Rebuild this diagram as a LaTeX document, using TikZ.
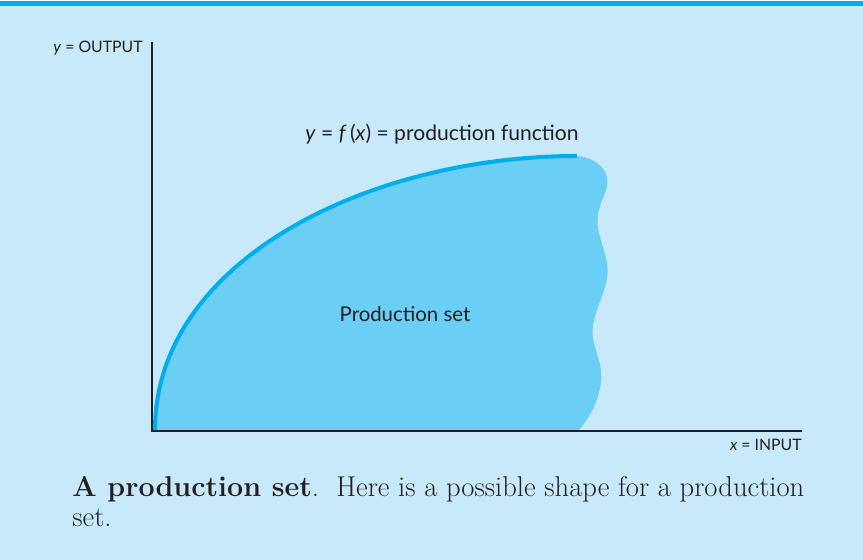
\documentclass[tikz,border=0pt]{standalone}
\usepackage{fontspec}
\usepackage{xcolor}
\usepackage{tikz}
\usetikzlibrary{positioning}
\newfontfamily\labelfont{Lato}
\definecolor{panelbg}{HTML}{C7E9F9}
\definecolor{topbar}{HTML}{00AEEF}
\definecolor{setfill}{HTML}{6BCEF5}
\definecolor{inkdark}{HTML}{231F20}

\begin{document}
\begin{tikzpicture}[
  x=0.02cm, y=-0.02cm,
  axislbl/.style={font=\labelfont\fontsize{9}{11}\selectfont, text=inkdark, inner sep=0pt},
  curvelbl/.style={font=\labelfont\fontsize{12}{14}\selectfont, text=inkdark, inner sep=0pt},
  axisline/.style={draw=inkdark, line width=1.6pt},
  frontier/.style={draw=topbar, line width=2.3pt, line cap=butt}
]
  \useasboundingbox (0,0) rectangle (863,560);
  \fill[panelbg] (0,2) rectangle (863,560);
  \fill[topbar] (0,1.5) rectangle (863,6.5);

  % production set with wavy right edge
  \coordinate (O) at (152,431);
  \coordinate (Y) at (152,42);
  \coordinate (X) at (802,431);
  \coordinate (S) at (155,430);
  \coordinate (E) at (577,156);
  \fill[setfill] (S) .. controls (155,260) and (370,156) .. (E)
    .. controls (598,158) and (612,172) .. (606,190)
    .. controls (600,205) and (596,215) .. (598,228)
    .. controls (601,245) and (610,262) .. (607,278)
    .. controls (604,298) and (590,318) .. (593,338)
    .. controls (596,355) and (603,365) .. (601,382)
    .. controls (599,400) and (590,418) .. (578,431)
    -- (O) -- cycle;
  \draw[frontier] (S) .. controls (155,260) and (370,156) .. (E);

  % axes
  \draw[axisline] (Y) -- (O) -- (X);

  \node[axislbl, anchor=east] (ylbl) at (143,48) {\textit{y} = OUTPUT};
  \node[axislbl, anchor=east] (xlbl) at (802,445) {\textit{x} = INPUT};
  \node[curvelbl, anchor=base east] (flbl) at (579,141) {\textit{y} = \textit{f}\,(\textit{x}) = production function};
  \node[curvelbl, font=\labelfont\fontsize{11.6}{14}\selectfont] (setlbl) at (405,314) {Production set};

  % caption
  \node[anchor=base west, align=left, inner sep=0pt, text=inkdark,
        font=\fontsize{16.3}{17.5}\selectfont] (cap) at (72,527)
    {\textbf{A production set}.\ \ Here is a possible shape for a production\\set.};
\end{tikzpicture}
\end{document}
